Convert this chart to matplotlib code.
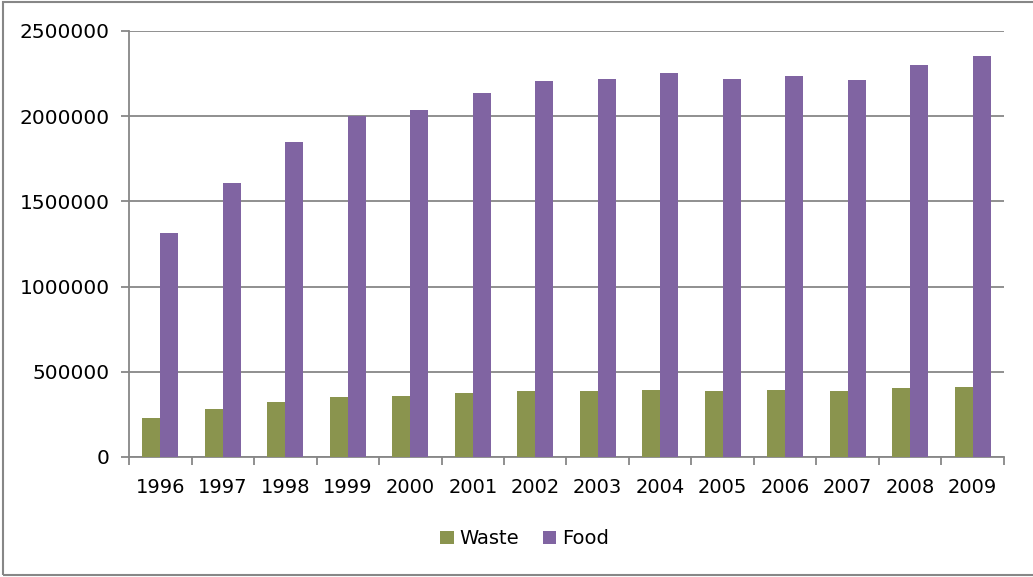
#!/usr/bin/env python3
import matplotlib
matplotlib.use("Agg")
import matplotlib.pyplot as plt
from matplotlib.patches import Rectangle
import numpy as np

years = ["1996", "1997", "1998", "1999", "2000", "2001", "2002",
         "2003", "2004", "2005", "2006", "2007", "2008", "2009"]
waste = [229000, 282000, 323000, 350000, 356000, 374000, 385000,
         387000, 395000, 387000, 391000, 387000, 403000, 411000]
food = [1315000, 1610000, 1849000, 2001000, 2038000, 2136000, 2205000,
        2218000, 2254000, 2216000, 2234000, 2212000, 2301000, 2351000]

green = "#8A944E"
purple = "#8064A2"
gray = "#878787"

fig = plt.figure(figsize=(10.33, 5.77), dpi=100)
ax = fig.add_axes([0.1249, 0.208, 0.8470, 0.7383])

x = np.arange(len(years))
w = 0.288
ax.bar(x - w / 2, waste, w, color=green, label="Waste", zorder=3)
ax.bar(x + w / 2, food, w, color=purple, label="Food", zorder=3)

ax.set_xlim(-0.5, len(years) - 0.5)
ax.set_ylim(0, 2500000)
ax.set_yticks(np.arange(0, 2500001, 500000))
ax.set_yticklabels([str(v) for v in range(0, 2500001, 500000)])
ax.yaxis.grid(True, color=gray, linewidth=1.3, zorder=0)

ax.set_xticks(x)
ax.set_xticklabels(years)
ax.set_xticks(np.arange(-0.5, len(years)), minor=True)
ax.tick_params(axis="x", which="major", length=0, pad=15, labelsize=14)
ax.tick_params(axis="x", which="minor", length=6, color=gray, width=1.3)
ax.tick_params(axis="y", length=6, color=gray, width=1.3, pad=8, labelsize=14.5)

for s in ["top", "right"]:
    ax.spines[s].set_visible(False)
for s in ["left", "bottom"]:
    ax.spines[s].set_color(gray)
    ax.spines[s].set_linewidth(1.3)

ax.legend(loc="center", bbox_to_anchor=(0.452, -0.192), ncol=2,
          frameon=False, fontsize=14, handlelength=0.7, handleheight=0.7,
          handletextpad=0.3, columnspacing=1.2)

fig.patches.append(Rectangle((0.003, 0.003), 1.2, 0.993, transform=fig.transFigure,
                             fill=False, edgecolor=gray, linewidth=1.5))

fig.savefig("out.png", dpi=100)
